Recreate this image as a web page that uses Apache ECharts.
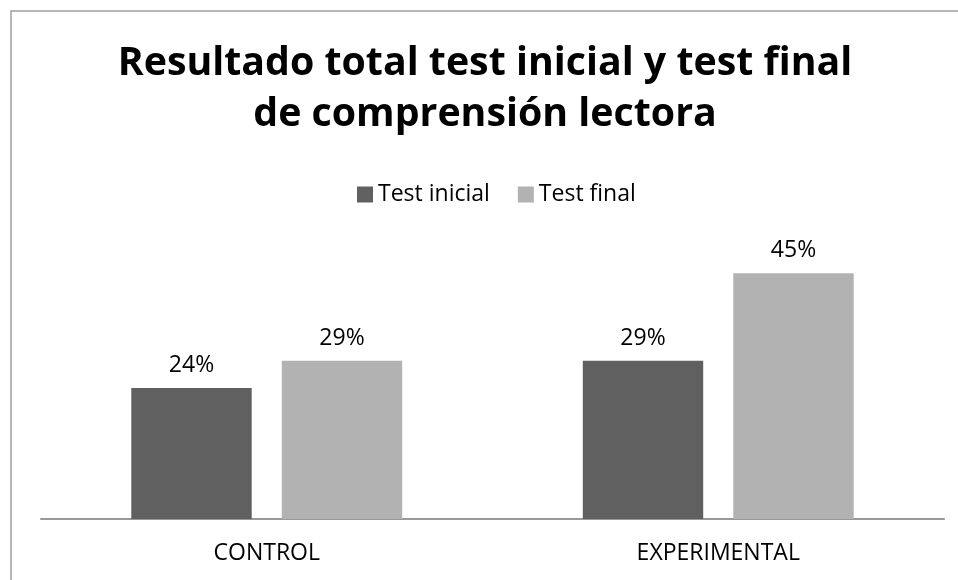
<!DOCTYPE html>
<html>
<head>
<meta charset="utf-8">
<script src="https://cdn.jsdelivr.net/npm/echarts@6/dist/echarts.min.js"></script>
<style>
  html, body { margin: 0; padding: 0; background: #fff; }
  #chart { width: 958px; height: 580px; }
</style>
</head>
<body>
<div id="chart"></div>
<script>
// datos del gráfico
const grupos = ['CONTROL', 'EXPERIMENTAL'];
const nombresSeries = ['Test inicial', 'Test final'];
const testInicial = [24, 29];
const testFinal = [29, 45];

const chart = echarts.init(document.getElementById('chart'));

const fuente = '"Open Sans", sans-serif';

const option = {
  backgroundColor: '#fff',
  animation: false,
  title: {
    text: 'Resultado total test inicial y test final\nde comprensión lectora',
    left: 480,
    textAlign: 'center',
    top: 33,
    textStyle: {
      fontFamily: fuente,
      fontWeight: 'bold',
      fontSize: 39.3,
      lineHeight: 51,
      color: '#000'
    }
  },
  graphic: [{
    // marco del gráfico
    type: 'rect',
    shape: { x: 11, y: 11, width: 960, height: 600 },
    style: { fill: 'none', stroke: '#a0a0a0', lineWidth: 1.5 },
    silent: true
  }],
  legend: {
    data: nombresSeries,
    top: 178,
    left: 352,
    itemWidth: 16,
    itemHeight: 16,
    itemGap: 28,
    icon: 'rect',
    textStyle: { fontFamily: fuente, fontSize: 23, color: '#000' }
  },
  grid: {
    left: 41,
    right: 14,
    top: 246,
    bottom: 61
  },
  xAxis: {
    type: 'category',
    data: grupos,
    axisLine: { lineStyle: { color: '#999', width: 2 } },
    axisTick: { show: false },
    axisLabel: { fontFamily: fuente, fontSize: 23, color: '#000', margin: 23 }
  },
  yAxis: {
    type: 'value',
    min: 0,
    max: 50,
    show: false,
    splitLine: { show: false }
  },
  series: [
    {
      name: nombresSeries[0],
      type: 'bar',
      data: testInicial,
      barGap: '25%',
      barCategoryGap: '40%',
      itemStyle: { color: '#606060' },
      label: {
        show: true,
        position: 'top',
        distance: 11,
        formatter: '{c}%',
        fontFamily: fuente,
        fontSize: 23,
        color: '#000'
      }
    },
    {
      name: nombresSeries[1],
      type: 'bar',
      data: testFinal,
      barGap: '25%',
      barCategoryGap: '40%',
      itemStyle: { color: '#b2b2b2' },
      label: {
        show: true,
        position: 'top',
        distance: 11,
        formatter: '{c}%',
        fontFamily: fuente,
        fontSize: 23,
        color: '#000'
      }
    }
  ]
};

chart.setOption(option);
</script>
</body>
</html>
